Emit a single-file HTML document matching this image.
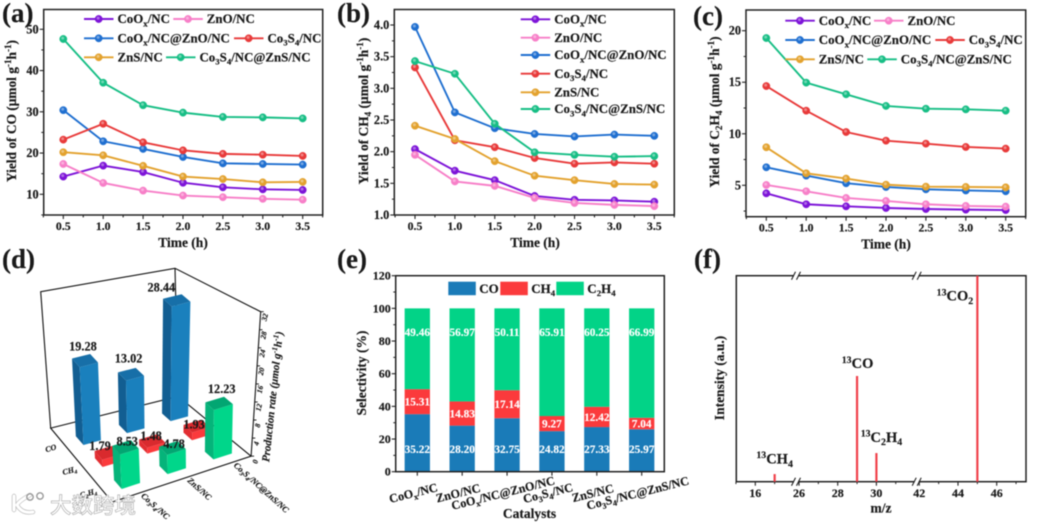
<!DOCTYPE html>
<html lang="en">
<head>
<meta charset="utf-8">
<title>CO2 photoreduction yields, selectivity and isotope figure</title>
<style>
html,body{margin:0;padding:0;background:#fff;}
#figure{display:block;width:1039px;height:523px;filter:blur(0.45px);font-family:"Liberation Serif","Noto Serif CJK SC",serif;font-weight:bold;fill:#1a1a1a;}
#figure text{stroke:#1a1a1a;stroke-width:0.18px;}
</style>
</head>
<body>
<svg id="figure" xmlns="http://www.w3.org/2000/svg" width="1039" height="523" viewBox="0 0 1039 523">
<rect x="0" y="0" width="1039" height="523" fill="#fff"/>
<g id="root"></g>
<g>
<path d="M14 496 V510 M30 495 Q19 501 17 505 Q22 514 33 512" fill="none" stroke="#bdbdbd" stroke-width="4.4" stroke-linecap="round"/>
<path d="M14 496 V510 M30 495 Q19 501 17 505 Q22 514 33 512" fill="none" stroke="#fff" stroke-width="3" stroke-linecap="round"/>
<circle cx="30" cy="497" r="3.2" fill="none" stroke="#999" stroke-width="1.4"/>
<circle cx="40" cy="496" r="3.2" fill="none" stroke="#999" stroke-width="1.4"/>
<text x="50" y="513" font-family="'Noto Sans CJK SC',sans-serif" font-size="21.5" font-weight="500" fill="#fff" style="stroke:#a8a8a8;stroke-width:0.6px">大数跨境</text>
</g>
</svg>
<script>
// ---------- shared categories ----------
const timeHours = [0.5, 1.0, 1.5, 2.0, 2.5, 3.0, 3.5];
const seriesLabels = ['CoO_{x}/NC', 'ZnO/NC', 'CoO_{x}/NC@ZnO/NC', 'Co_{3}S_{4}/NC', 'ZnS/NC', 'Co_{3}S_{4}/NC@ZnS/NC'];
const seriesKeys = ['coox', 'zno', 'coox-zno', 'co3s4', 'zns', 'co3s4-zns'];
const seriesColors = ['#7d14d8', '#f77fc8', '#1f6fd0', '#e83a3a', '#e3a22e', '#17be85'];

// ---------- panel (a) CO yield ----------
const coCoOx = [14.3, 16.95, 15.4, 12.8, 11.7, 11.2, 11.05];
const coZnO = [17.35, 12.75, 10.9, 9.7, 9.3, 8.9, 8.7];
const coCoOxZnO = [30.4, 22.85, 21.0, 19.05, 17.5, 17.35, 17.2];
const coCo3S4 = [23.25, 27.1, 22.6, 20.65, 19.8, 19.6, 19.3];
const coZnS = [20.2, 19.45, 16.9, 14.3, 13.7, 12.9, 13.0];
const coCo3S4ZnS = [47.65, 37.05, 31.6, 29.8, 28.75, 28.65, 28.4];
const coTicks = [10, 20, 30, 40, 50];

// ---------- panel (b) CH4 yield ----------
const ch4CoOx = [2.04, 1.70, 1.55, 1.30, 1.24, 1.23, 1.21];
const ch4ZnO = [1.95, 1.53, 1.46, 1.27, 1.19, 1.16, 1.14];
const ch4CoOxZnO = [3.97, 2.62, 2.37, 2.28, 2.24, 2.27, 2.25];
const ch4Co3S4 = [3.33, 2.18, 2.07, 1.90, 1.81, 1.83, 1.81];
const ch4ZnS = [2.41, 2.20, 1.85, 1.62, 1.55, 1.49, 1.48];
const ch4Co3S4ZnS = [3.43, 3.23, 2.44, 1.99, 1.95, 1.92, 1.93];
const ch4Ticks = [1.0, 1.5, 2.0, 2.5, 3.0, 3.5, 4.0];

// ---------- panel (c) C2H4 yield ----------
const c2h4CoOx = [4.22, 3.16, 2.96, 2.8, 2.7, 2.64, 2.6];
const c2h4ZnO = [5.03, 4.42, 3.77, 3.48, 3.16, 3.0, 2.93];
const c2h4CoOxZnO = [6.75, 5.94, 5.2, 4.84, 4.61, 4.5, 4.42];
const c2h4Co3S4 = [14.63, 12.24, 10.17, 9.33, 9.04, 8.72, 8.56];
const c2h4ZnS = [8.69, 6.16, 5.65, 5.06, 4.87, 4.84, 4.8];
const c2h4Co3S4ZnS = [19.29, 14.96, 13.83, 12.7, 12.43, 12.37, 12.24];
const c2h4Ticks = [5, 10, 15, 20];

// ---------- panel (d) 3D production rate ----------
const rateCatalysts = ['Co_{3}S_{4}/NC', 'ZnS/NC', 'Co_{3}S_{4}/NC@ZnS/NC'];
const rateProducts = ['CO', 'CH_{4}', 'C_{2}H_{4}'];
const rateCO = [19.28, 13.02, 28.44];
const rateCH4 = [1.79, 1.48, 1.93];
const rateC2H4 = [8.53, 4.78, 12.23];
const rateTicks = [0, 4, 8, 12, 16, 20, 24, 28, 32];

// ---------- panel (e) selectivity ----------
const selCatalysts = ['CoO_{x}/NC', 'ZnO/NC', 'CoO_{x}/NC@ZnO/NC', 'Co_{3}S_{4}/NC', 'ZnS/NC', 'Co_{3}S_{4}/NC@ZnS/NC'];
const selCO = [35.22, 28.20, 32.75, 24.82, 27.33, 25.97];
const selCH4 = [15.31, 14.83, 17.14, 9.27, 12.42, 7.04];
const selC2H4 = [49.46, 56.97, 50.11, 65.91, 60.25, 66.99];
const selTicks = [0, 20, 40, 60, 80, 100, 120];

// ---------- panel (f) mass spectrum ----------
const peakMz = [17, 29, 30, 45];
const peakIntensity = [3.7, 51.3, 13.9, 100];
const peakLabels = ['^{13}CH_{4}', '^{13}CO', '^{13}C_{2}H_{4}', '^{13}CO_{2}'];
const mzTicks = [16, 26, 28, 30, 42, 44, 46];

// ---------- helpers ----------
const NS = 'http://www.w3.org/2000/svg';
const root = document.getElementById('root');
function mk(parent, tag, attrs, name) {
  const el = document.createElementNS(NS, tag);
  for (const k in attrs) el.setAttribute(k, attrs[k]);
  
  
  parent.appendChild(el);
  return el;
}
function richText(parent, str, attrs, name) {
  const el = mk(parent, 'text', attrs, name);
  const size = parseFloat(attrs['font-size'] || 12);
  const parts = str.split(/([_^]\{[^}]*\})/).filter(function (s) { return s.length; });
  let shift = 0;
  parts.forEach(function (p) {
    const t = document.createElementNS(NS, 'tspan');
    let target = 0;
    let content = p;
    if (p[0] === '_' && p[1] === '{') { target = size * 0.24; content = p.slice(2, -1); t.setAttribute('font-size', size * 0.68); }
    else if (p[0] === '^' && p[1] === '{') { target = -size * 0.36; content = p.slice(2, -1); t.setAttribute('font-size', size * 0.68); }
    t.setAttribute('dy', target - shift);
    shift = target;
    t.textContent = content;
    el.appendChild(t);
  });
  return el;
}
function linear(d0, d1, r0, r1) {
  return function (v) { return r0 + (v - d0) * (r1 - r0) / (d1 - d0); };
}
function range(a, b, step) {
  const out = [];
  for (let v = a; v <= b + 1e-9; v += step) out.push(+v.toFixed(4));
  return out;
}
function marker(parent, x, y, color, name) {
  mk(parent, 'circle', { cx: x, cy: y, r: 3.7, fill: color, stroke: color, 'stroke-width': 0.4 }, name);
  mk(parent, 'circle', { cx: x - 0.6, cy: y - 0.9, r: 1.5, fill: '#fff', opacity: 0.38 }, name + '-highlight');
}
function panelLabel(text, x, y, key) {
  const t = mk(root, 'text', { x: x, y: y, 'font-size': 27 }, 'panel-label-' + key);
  t.textContent = text;
}

// ---------- line panels ----------
function linePanel(cfg) {
  const g = mk(root, 'g', {}, 'panel-' + cfg.key);
  const xs = linear(0.5, 3.5, cfg.x05, cfg.x35);
  const ys = linear(cfg.v1, cfg.v2, cfg.y1, cfg.y2);
  mk(g, 'rect', { x: cfg.left, y: cfg.top, width: cfg.right - cfg.left, height: cfg.bottom - cfg.top, fill: 'none', stroke: '#222', 'stroke-width': 1.5 }, 'plot-frame');
  range(0.25, 3.75, 0.25).forEach(function (t) {
    const major = Math.abs(t * 2 - Math.round(t * 2)) < 1e-6;
    mk(g, 'line', { x1: xs(t), x2: xs(t), y1: cfg.bottom, y2: cfg.bottom + (major ? 4 : 2.4), stroke: '#222', 'stroke-width': 1.1 }, major ? 'x-major-tick' : 'x-minor-tick');
  });
  timeHours.forEach(function (t) {
    const lab = mk(g, 'text', { x: xs(t), y: cfg.bottom + 15, 'font-size': 11.8, 'text-anchor': 'middle' }, 'x-tick-label');
    lab.textContent = t.toFixed(1);
  });
  cfg.yTicks.forEach(function (v) {
    mk(g, 'line', { x1: cfg.left - 4, x2: cfg.left, y1: ys(v), y2: ys(v), stroke: '#222', 'stroke-width': 1.1 }, 'y-major-tick');
    const lab = mk(g, 'text', { x: cfg.left - 5, y: ys(v) + 4, 'font-size': 12.3, 'text-anchor': 'end' }, 'y-tick-label');
    lab.textContent = cfg.yFmt(v);
  });
  const step = cfg.yTicks[1] - cfg.yTicks[0];
  cfg.yTicks.concat([cfg.yTicks[0] - step]).forEach(function (v) {
    const m = v + step / 2;
    if (ys(m) > cfg.top && ys(m) < cfg.bottom) {
      mk(g, 'line', { x1: cfg.left - 2.4, x2: cfg.left, y1: ys(m), y2: ys(m), stroke: '#222', 'stroke-width': 1 }, 'y-minor-tick');
    }
  });
  const xt = mk(g, 'text', { x: cfg.xTitleX, y: cfg.bottom + 32, 'font-size': 13.5, 'text-anchor': 'middle' }, 'x-axis-title');
  xt.textContent = 'Time (h)';
  richText(g, cfg.yTitle, { transform: 'translate(' + cfg.yTitleX + ',' + cfg.yTitleY + ') rotate(-90)', 'font-size': 13.4, 'text-anchor': 'middle' }, 'y-axis-title');
  cfg.series.forEach(function (vals, s) {
    const sg = mk(g, 'g', {}, 'series-' + seriesKeys[s]);
    const pts = vals.map(function (v, i) { return xs(timeHours[i]).toFixed(2) + ',' + ys(v).toFixed(2); }).join(' ');
    mk(sg, 'polyline', { points: pts, fill: 'none', stroke: seriesColors[s], 'stroke-width': 1.9 }, 'series-line');
    vals.forEach(function (v, i) { marker(sg, xs(timeHours[i]), ys(v), seriesColors[s], 'data-point'); });
  });
  cfg.legend.forEach(function (e, s) {
    const lg = mk(g, 'g', {}, 'legend-entry-' + seriesKeys[s]);
    mk(lg, 'line', { x1: e[0], x2: e[0] + 29.5, y1: e[1], y2: e[1], stroke: seriesColors[s], 'stroke-width': 1.9 }, 'legend-line');
    marker(lg, e[0] + 14.7, e[1], seriesColors[s], 'legend-marker');
    richText(lg, seriesLabels[s], { x: e[0] + 33.5, y: e[1] + 4.2, 'font-size': 12.9 }, 'legend-label');
  });
}
linePanel({
  key: 'a-co-yield', left: 43.7, right: 322.7, top: 9.5, bottom: 215,
  x05: 63.3, x35: 302.7, v1: 10, y1: 194.3, v2: 50, y2: 29.3,
  yTicks: coTicks, yFmt: function (v) { return String(v); },
  yTitle: 'Yield of CO (μmol g^{-1}h^{-1})', yTitleX: 16, yTitleY: 111, xTitleX: 183,
  series: [coCoOx, coZnO, coCoOxZnO, coCo3S4, coZnS, coCo3S4ZnS],
  legend: [[84, 19], [173.3, 19], [84, 38.3], [234, 38.3], [84, 57.3], [166, 57.3]]
});
linePanel({
  key: 'b-ch4-yield', left: 394.3, right: 674.3, top: 9.5, bottom: 215,
  x05: 415, x35: 654.3, v1: 1, y1: 215, v2: 4, y2: 25,
  yTicks: ch4Ticks, yFmt: function (v) { return v.toFixed(1); },
  yTitle: 'Yield of CH_{4} (μmol g^{-1}h^{-1})', yTitleX: 368, yTitleY: 111, xTitleX: 535,
  series: [ch4CoOx, ch4ZnO, ch4CoOxZnO, ch4Co3S4, ch4ZnS, ch4Co3S4ZnS],
  legend: [[520.7, 19.3], [520.7, 37.7], [520.7, 55], [520.7, 73.7], [520.7, 92.3], [520.7, 109]]
});
linePanel({
  key: 'c-c2h4-yield', left: 746, right: 1025.7, top: 10, bottom: 216.7,
  x05: 766.3, x35: 1005.7, v1: 5, y1: 185.3, v2: 20, y2: 30.7,
  yTicks: c2h4Ticks, yFmt: function (v) { return String(v); },
  yTitle: 'Yield of C_{2}H_{4} (μmol g^{-1}h^{-1})', yTitleX: 719, yTitleY: 112, xTitleX: 886,
  series: [c2h4CoOx, c2h4ZnO, c2h4CoOxZnO, c2h4Co3S4, c2h4ZnS, c2h4Co3S4ZnS],
  legend: [[785.3, 20.7], [874, 20.7], [785.3, 40], [935.3, 40], [785.3, 59.3], [867.3, 59.3]]
});

// ---------- panel (d) ----------
(function () {
  const g = mk(root, 'g', {}, 'panel-d-production-rate');
  const ZUNIT = 12.1;
  function project(i, j, z) {
    const fx = 265 + 130 * i + 58 * j + 3.5 * i * j;
    const fy = 535 - 35 * i + 65 * j - 4.25 * i * j;
    return [(fx + (i - 1.5) * 0.35 * z) / 3, 260 + (fy - z * ZUNIT) / 3];
  }
  function pt(p) { return p[0].toFixed(2) + ',' + p[1].toFixed(2); }
  const iMin = -0.55, iMax = 2.45, jMin = -0.74, jMax = 2.55;
  const BL = project(iMin, jMin, 0), BK = project(iMax, jMin, 0), RT = project(iMax, jMax, 0), FR = project(iMin, jMax, 0);
  const topL = [40.7, 291.7], topB = [175, 268.3], topR = [260.7, 311.7];
  mk(g, 'polygon', { points: [BL, BK, RT, FR].map(pt).join(' '), fill: 'none', stroke: '#111', 'stroke-width': 1.1 }, 'floor-frame');
  mk(g, 'polyline', { points: [BL, topL, topB, topR, RT].map(pt).join(' '), fill: 'none', stroke: '#111', 'stroke-width': 1.1 }, 'back-wall-frame');
  mk(g, 'line', { x1: BK[0], y1: BK[1], x2: topB[0], y2: topB[1], stroke: '#111', 'stroke-width': 1.1 }, 'back-corner-edge');
  const zx = linear(0, 32, RT[0], topR[0]);
  const zy = linear(0, 32, RT[1], topR[1]);
  rateTicks.forEach(function (v) {
    mk(g, 'line', { x1: zx(v), x2: zx(v) + 3, y1: zy(v), y2: zy(v), stroke: '#111', 'stroke-width': 0.9 }, 'z-major-tick');
    const lab = mk(g, 'text', { transform: 'translate(' + (zx(v) + 6.5) + ',' + (zy(v) + 6) + ') rotate(-78)', 'font-size': 7.5, 'font-style': 'italic', 'text-anchor': 'middle' }, 'z-tick-label');
    lab.textContent = v;
  });
  richText(g, 'Production rate (μmol g^{-1}h^{-1})', { transform: 'translate(276,397) rotate(-84)', 'font-size': 11, 'font-style': 'italic', 'text-anchor': 'middle' }, 'z-axis-title');

  rateProducts.forEach(function (p, j) {
    const pos = project(iMin, j, 0);
    richText(g, p, { transform: 'translate(' + (pos[0] - 13) + ',' + (pos[1] + 6) + ') rotate(-15)', 'font-size': 8, 'font-style': 'italic', 'text-anchor': 'middle' }, 'product-axis-label');
  });
  rateCatalysts.forEach(function (c, i) {
    const pos = project(i, jMax, 0);
    richText(g, c, { transform: 'translate(' + (pos[0] + 3) + ',' + (pos[1] + 3) + ') rotate(42)', 'font-size': 8.5, 'font-style': 'italic' }, 'catalyst-axis-label');
  });

  const faces = [
    { dark: '#125e92', light: '#1a80bd', top: '#176fa8', key: 'co' },
    { dark: '#e22e32', light: '#fb3a3c', top: '#d92a2e', key: 'ch4' },
    { dark: '#05b47a', light: '#00d68a', top: '#02a672', key: 'c2h4' }
  ];
  const rows = [rateCO, rateCH4, rateC2H4];
  const D = 0.2;
  // label offsets in real px relative to the bar-top centre (layout only)
  const nudgeDx = [[-2, -2.3, -15.3], [-7.3, -1, -2.7], [1.7, 1.7, 2.7]];
  const nudgeDy = [[-10, -11.7, -9], [-2.7, -1, 2.7], [-1.7, 0, -10.3]];
  const labelLayer = [];
  rows.forEach(function (vals, j) {
    [2, 1, 0].forEach(function (i) {
      const z = vals[i];
      const f = faces[j];
      const bg = mk(g, 'g', {}, 'bar-' + f.key + '-' + (i + 1));
      const lb = project(i - D, j - D, 0), fb = project(i - D, j + D, 0), rb = project(i + D, j + D, 0);
      const lt = project(i - D, j - D, z), ft = project(i - D, j + D, z), rt = project(i + D, j + D, z), bt = project(i + D, j - D, z);
      mk(bg, 'polygon', { points: [lb, fb, ft, lt].map(pt).join(' '), fill: f.dark }, 'bar-left-face');
      mk(bg, 'polygon', { points: [fb, rb, rt, ft].map(pt).join(' '), fill: f.light }, 'bar-right-face');
      mk(bg, 'polygon', { points: [lt, ft, rt, bt].map(pt).join(' '), fill: f.top }, 'bar-top-face');
      const c = project(i, j, z);
      labelLayer.push([c[0] + nudgeDx[j][i], c[1] + nudgeDy[j][i], z.toFixed(2)]);
    });
  });
  labelLayer.forEach(function (l) {
    const t = mk(g, 'text', { x: l[0], y: l[1], 'font-size': 12.3, 'text-anchor': 'middle' }, 'bar-value-label');
    t.textContent = l[2];
  });
})();

// ---------- panel (e) ----------
(function () {
  const g = mk(root, 'g', {}, 'panel-e-selectivity');
  const L = 395.7, R = 664.3, T = 275.7, B = 471.7;
  const y = linear(0, 120, B, T);
  const x = linear(0, 5, 417.3, 641.7);
  const bw = 25.3;
  const segColors = { co: '#1a7bb8', ch4: '#fb3a3c', c2h4: '#02d387' };
  const whiteText = 'stroke:#fff;stroke-width:0.12px';
  selCatalysts.forEach(function (c, i) {
    const bg = mk(g, 'g', {}, 'stacked-bar-' + (i + 1));
    const a = selCO[i], b = selCH4[i], d = selC2H4[i];
    mk(bg, 'rect', { x: x(i) - bw / 2, width: bw, y: y(a), height: y(0) - y(a), fill: segColors.co }, 'segment-co');
    mk(bg, 'rect', { x: x(i) - bw / 2, width: bw, y: y(a + b), height: y(a) - y(a + b), fill: segColors.ch4 }, 'segment-ch4');
    mk(bg, 'rect', { x: x(i) - bw / 2, width: bw, y: y(a + b + d), height: y(a + b) - y(a + b + d), fill: segColors.c2h4 }, 'segment-c2h4');
    const t1 = mk(bg, 'text', { x: x(i), y: y(14) + 4, 'font-size': 11.3, 'text-anchor': 'middle', fill: '#fff', style: whiteText }, 'value-label-co');
    t1.textContent = a.toFixed(2);
    const t2 = mk(bg, 'text', { x: x(i), y: y(a + b / 2) + 4, 'font-size': 11.3, 'text-anchor': 'middle', fill: '#fff', style: whiteText }, 'value-label-ch4');
    t2.textContent = b.toFixed(2);
    const t3 = mk(bg, 'text', { x: x(i), y: y(85.5) + 4, 'font-size': 11.3, 'text-anchor': 'middle', fill: '#fff', style: whiteText }, 'value-label-c2h4');
    t3.textContent = d.toFixed(2);
    mk(g, 'line', { x1: x(i), x2: x(i), y1: B, y2: B + 4, stroke: '#222', 'stroke-width': 1.1 }, 'x-tick');
    richText(g, c, { transform: 'translate(' + (x(i) - 3) + ',' + 497 + ') rotate(-14)', 'font-size': 12.2, 'text-anchor': 'middle' }, 'catalyst-label');
  });
  mk(g, 'rect', { x: L, y: T, width: R - L, height: B - T, fill: 'none', stroke: '#222', 'stroke-width': 1.5 }, 'plot-frame');
  selTicks.forEach(function (v) {
    mk(g, 'line', { x1: L - 4, x2: L, y1: y(v), y2: y(v), stroke: '#222', 'stroke-width': 1.1 }, 'y-major-tick');
    if (v < 120) mk(g, 'line', { x1: L - 2.4, x2: L, y1: y(v + 10), y2: y(v + 10), stroke: '#222', 'stroke-width': 1 }, 'y-minor-tick');
    const t = mk(g, 'text', { x: L - 5, y: y(v) + 4, 'font-size': 12, 'text-anchor': 'end' }, 'y-tick-label');
    t.textContent = v;
  });
  const yt = mk(g, 'text', { transform: 'translate(366,373) rotate(-90)', 'font-size': 13.5, 'text-anchor': 'middle' }, 'y-axis-title');
  yt.textContent = 'Selectivity (%)';
  const xt = mk(g, 'text', { x: 529.5, y: 518, 'font-size': 13.5, 'text-anchor': 'middle' }, 'x-axis-title');
  xt.textContent = 'Catalysts';
  [[448.3, 'CO', segColors.co, 'co'], [500.3, 'CH_{4}', segColors.ch4, 'ch4'], [556.3, 'C_{2}H_{4}', segColors.c2h4, 'c2h4']].forEach(function (e) {
    const lg = mk(g, 'g', {}, 'legend-entry-' + e[3]);
    mk(lg, 'rect', { x: e[0], y: 281.7, width: 27.5, height: 13.5, fill: e[2] }, 'legend-swatch');
    richText(lg, e[1], { x: e[0] + 31, y: 293, 'font-size': 13 }, 'legend-label');
  });
})();

// ---------- panel (f) ----------
(function () {
  const g = mk(root, 'g', {}, 'panel-f-mass-spectrum');
  const L = 736.3, R = 1026, T = 275.7, B = 481.7;
  const UNIT = 19.35;
  function xMz(m) {
    if (m < 22) return 755.3 + (m - 16) * UNIT;
    if (m < 36) return 799 + (m - 26) * UNIT;
    return 919.3 + (m - 42) * UNIT;
  }
  const yI = linear(0, 100, B, T);
  mk(g, 'rect', { x: L, y: T, width: R - L, height: B - T, fill: 'none', stroke: '#222', 'stroke-width': 1.5 }, 'plot-frame');
  [796, 916.7].forEach(function (bx) {
    [T, B].forEach(function (by) {
      mk(g, 'line', { x1: bx - 2, x2: bx + 2, y1: by, y2: by, stroke: '#fff', 'stroke-width': 3 }, 'axis-break-gap');
      mk(g, 'line', { x1: bx - 4.5, x2: bx - 0.5, y1: by + 4, y2: by - 4, stroke: '#222', 'stroke-width': 1.1 }, 'axis-break-slash');
      mk(g, 'line', { x1: bx + 0.5, x2: bx + 4.5, y1: by + 4, y2: by - 4, stroke: '#222', 'stroke-width': 1.1 }, 'axis-break-slash');
    });
  });
  mzTicks.forEach(function (m) {
    mk(g, 'line', { x1: xMz(m), x2: xMz(m), y1: B, y2: B + 4, stroke: '#222', 'stroke-width': 1.1 }, 'x-major-tick');
    const t = mk(g, 'text', { x: xMz(m), y: 497, 'font-size': 12, 'text-anchor': 'middle' }, 'x-tick-label');
    t.textContent = m;
  });
  [15, 17, 27, 29, 31, 43, 45, 47].forEach(function (m) {
    mk(g, 'line', { x1: xMz(m), x2: xMz(m), y1: B, y2: B + 2.4, stroke: '#222', 'stroke-width': 1 }, 'x-minor-tick');
  });
  const labelX = [-18.3, -15.3, -15.7, -40.7];
  const labelY = [-10.7, -8, -11.3, 25];
  peakMz.forEach(function (m, i) {
    mk(g, 'line', { x1: xMz(m), x2: xMz(m), y1: yI(0), y2: yI(peakIntensity[i]), stroke: '#f0404a', 'stroke-width': 2.2 }, 'peak-' + m);
    richText(g, peakLabels[i], { x: xMz(m) + labelX[i], y: yI(peakIntensity[i]) + labelY[i], 'font-size': 14.5 }, 'peak-label');
  });
  const yt = mk(g, 'text', { transform: 'translate(724,378) rotate(-90)', 'font-size': 13.5, 'text-anchor': 'middle' }, 'y-axis-title');
  yt.textContent = 'Intensity (a.u.)';
  const xt = mk(g, 'text', { x: 881, y: 512.7, 'font-size': 13.5, 'text-anchor': 'middle' }, 'x-axis-title');
  xt.textContent = 'm/z';
})();

panelLabel('(a)', 2, 22, 'a');
panelLabel('(b)', 337, 22, 'b');
panelLabel('(c)', 693, 25, 'c');
panelLabel('(d)', 2, 268, 'd');
panelLabel('(e)', 337, 268, 'e');
panelLabel('(f)', 694, 268, 'f');
</script>
</body>
</html>
